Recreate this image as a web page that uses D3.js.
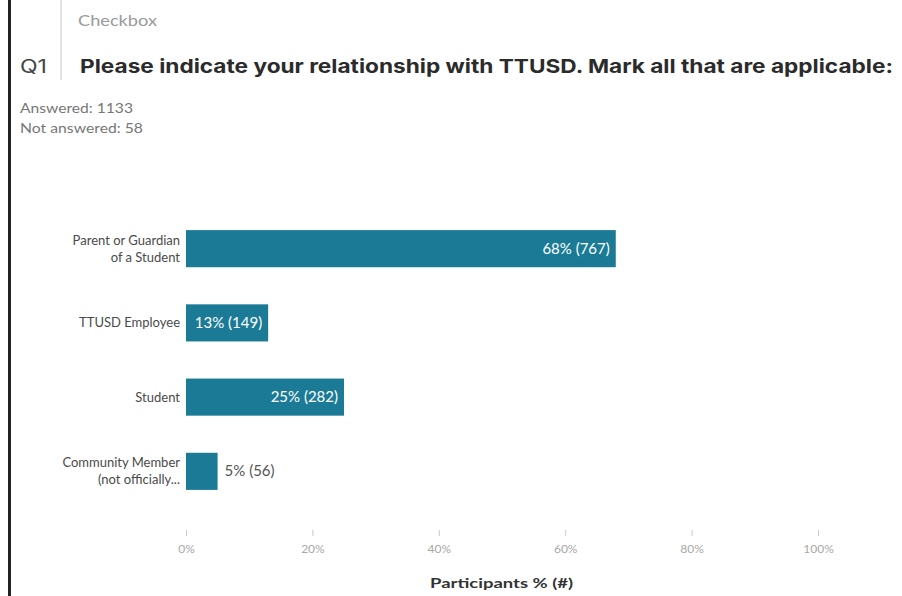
<!DOCTYPE html>
<html>
<head>
<meta charset="utf-8">
<script src="https://cdn.jsdelivr.net/npm/d3@7"></script>
<style>
  body { margin:0; background:#fff; }
  text { font-family: Lato, "Open Sans", sans-serif; }
</style>
</head>
<body>
<svg id="chart"></svg>
<script>
// ---------- DATA --------------------------------------------------------
const categories = ['Parent or Guardian of a Student', 'TTUSD Employee', 'Student', 'Community Member (not officially...'];
const labelLines = [['Parent or Guardian', 'of a Student'], ['TTUSD Employee'], ['Student'], ['Community Member', '(not officially...']];
const percents   = [68, 13, 25, 5];
const counts     = [767, 149, 282, 56];
const tickValues = [0, 20, 40, 60, 80, 100];
const answered = 1133, notAnswered = 58;

// ---------- CONSTANTS ---------------------------------------------------
const W = 902, H = 596;
const BAR = '#1b7b97';

const svg = d3.select('#chart').attr('width', W).attr('height', H);

// the screenshot is a bit stretched sideways, so squeeze text to the widths seen
function fit(sel, w){ return sel.attr('textLength', w).attr('lengthAdjust', 'spacingAndGlyphs'); }

// frame lines
svg.append('line').attr('x1', 9.5).attr('x2', 9.5).attr('y1', 0).attr('y2', H)
   .attr('stroke', '#222').attr('stroke-width', 3);
svg.append('line').attr('x1', 61).attr('x2', 61).attr('y1', 0).attr('y2', 80)
   .attr('stroke', '#e3e3e3').attr('stroke-width', 2);

// header
fit(svg.append('text').attr('x', 78).attr('y', 26).attr('fill', '#9a9a9a')
   .style('font-size', '15px').text('Checkbox'), 79);
fit(svg.append('text').attr('x', 20).attr('y', 73).attr('fill', '#444')
   .style('font-family', 'Inter, sans-serif').style('font-size', '18px').text('Q1'), 27);
fit(svg.append('text').attr('x', 80).attr('y', 73).attr('fill', '#2b2b2b')
   .style('font-family', 'Inter, sans-serif').style('font-weight', 700).style('font-size', '19px')
   .text('Please indicate your relationship with TTUSD. Mark all that are applicable:'), 813);

fit(svg.append('text').attr('x', 20).attr('y', 113).attr('fill', '#777')
   .style('font-size', '13px').text('Answered: ' + answered), 113);
fit(svg.append('text').attr('x', 20).attr('y', 133).attr('fill', '#777')
   .style('font-size', '13px').text('Not answered: ' + notAnswered), 123);

// ---------- SCALES ------------------------------------------------------
const x = d3.scaleLinear().domain([0, 100]).range([186, 818]);
const y = d3.scaleBand().domain(categories).range([193, 527]).padding(0.5);

// x axis
const xAxis = svg.append('g').attr('transform', 'translate(0,530)')
  .call(d3.axisBottom(x).tickValues(tickValues).tickSize(6).tickFormat(d => d + '%'));
xAxis.select('.domain').remove();
xAxis.selectAll('.tick line').attr('stroke', '#c8c8c8');
xAxis.selectAll('.tick text').attr('fill', '#a8a8a8').attr('y', 11).attr('dy', '1em')
     .style('font-family', 'Lato, sans-serif').style('font-size', '12px');

fit(svg.append('text').attr('x', 430).attr('y', 588)
   .attr('fill', '#333').style('font-weight', 700).style('font-size', '14px')
   .text('Participants % (#)'), 143);

// ---------- BARS --------------------------------------------------------
const rows = categories.map((c, i) => ({cat: c, lines: labelLines[i], pct: percents[i], n: counts[i]}));

const g = svg.append('g');
g.selectAll('rect').data(rows).enter().append('rect')
  .attr('x', x(0)).attr('y', d => y(d.cat))
  .attr('width', d => x(d.pct) - x(0)).attr('height', y.bandwidth())
  .attr('fill', BAR);

// category labels
rows.forEach(d => {
  const cy = y(d.cat) + y.bandwidth() / 2;
  const t = svg.append('text').attr('x', 180).attr('text-anchor', 'end').attr('fill', '#4a4a4a')
    .style('font-size', '13px');
  const n = d.lines.length;
  d.lines.forEach((ln, j) => {
    t.append('tspan').attr('x', 180).attr('y', cy + (j - (n - 1) / 2) * 17 + 4.5).text(ln);
  });
});

// value labels
rows.forEach(d => {
  const cy = y(d.cat) + y.bandwidth() / 2;
  const t = svg.append('text').attr('y', cy + 5).style('font-size', '15px')
    .text(`${d.pct}% (${d.n})`);
  const w = t.node().getComputedTextLength();
  const bw = x(d.pct) - x(0);
  if (w + 8 < bw) {
    t.attr('x', x(d.pct) - 6).attr('text-anchor', 'end').attr('fill', '#fff');
  } else {
    t.attr('x', x(d.pct) + 7).attr('fill', '#555');
  }
});
</script>
</body>
</html>
